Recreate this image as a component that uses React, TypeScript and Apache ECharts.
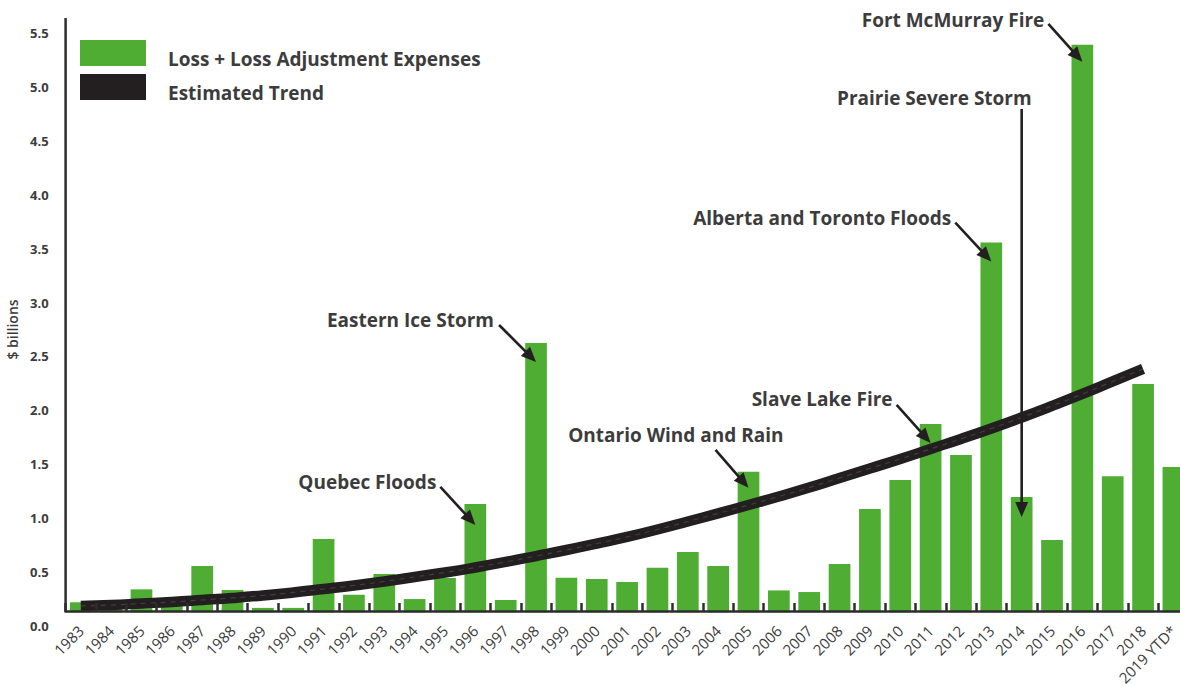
import React, { useEffect, useRef } from "react";
import * as echarts from "echarts";

const years = [
  "1983", "1984", "1985", "1986", "1987", "1988", "1989", "1990", "1991", "1992",
  "1993", "1994", "1995", "1996", "1997", "1998", "1999", "2000", "2001", "2002",
  "2003", "2004", "2005", "2006", "2007", "2008", "2009", "2010", "2011", "2012",
  "2013", "2014", "2015", "2016", "2017", "2018", "2019 YTD*",
];

const losses = [
  0.22, 0.17, 0.34, 0.19, 0.557, 0.334, 0.168, 0.168, 0.807, 0.29,
  0.482, 0.25, 0.445, 1.132, 0.24, 2.625, 0.448, 0.436, 0.408, 0.541,
  0.686, 0.557, 1.43, 0.33, 0.315, 0.575, 1.085, 1.354, 1.874, 1.586,
  3.556, 1.197, 0.798, 5.39, 1.39, 2.245, 1.475,
];

const trend = [
  0.186, 0.195, 0.209, 0.223, 0.241, 0.26, 0.283, 0.311, 0.343, 0.376,
  0.413, 0.455, 0.496, 0.543, 0.594, 0.649, 0.705, 0.765, 0.826, 0.895,
  0.969, 1.044, 1.122, 1.201, 1.284, 1.373, 1.461, 1.549, 1.642, 1.735,
  1.832, 1.934, 2.041, 2.152, 2.268, 2.384, null,
];

const eventLabels = [
  "Quebec Floods",
  "Eastern Ice Storm",
  "Ontario Wind and Rain",
  "Slave Lake Fire",
  "Alberta and Toronto Floods",
  "Prairie Severe Storm",
  "Fort McMurray Fire",
];
const eventYears = ["1996", "1998", "2005", "2011", "2013", "2014", "2016"];

// pixel layout of the annotation callouts (relative to the arrow tip)
const eventLayout = [
  { tipDy: 21, arrow: [-35, -38], text: [-39, -43] },
  { tipDy: 19, arrow: [-37, -37], text: [-42, -42] },
  { tipDy: 16, arrow: [-33, -38], text: [35, -52.5] },
  { tipDy: 19, arrow: [-34, -38], text: [-38, -44] },
  { tipDy: 19, arrow: [-36, -39], text: [-40, -44] },
  { tipDy: 20, arrow: [0, -408], text: [10, -419] },
  { tipDy: 17, arrow: [-34, -38], text: [-38, -42] },
];

const GREEN = "#4ead32";
const DARK = "#231f20";
const AXIS = "#2d2d2d";
const TEXT = "#3c3c3c";
const FONT = "'Open Sans', 'Noto Sans', sans-serif";

export default function App() {
  const ref = useRef<HTMLDivElement>(null);

  useEffect(() => {
    if (!ref.current) return;
    const chart = echarts.init(ref.current, undefined, { renderer: "svg" });
    chart.setOption({
      animation: false,
      backgroundColor: "#ffffff",
      textStyle: { fontFamily: FONT },
      grid: {
        left: 65.6,
        top: 33,
        width: 1123,
        height: 593,
        containLabel: false,
        outerBoundsMode: "none",
      },
      legend: {
        left: 80,
        top: 40,
        orient: "vertical",
        padding: 0,
        itemWidth: 66,
        itemHeight: 26,
        itemGap: 6,
        selectedMode: false,
        data: [
          { name: "Loss + Loss Adjustment Expenses", icon: "rect" },
          { name: "Estimated Trend", icon: "rect" },
        ],
        formatter: "{t|{name}}",
        textStyle: {
          fontFamily: FONT,
          fontSize: 19,
          fontWeight: "bold",
          color: TEXT,
          rich: {
            t: {
              fontFamily: FONT,
              fontSize: 19,
              fontWeight: "bold",
              color: TEXT,
              lineHeight: 30,
              verticalAlign: "bottom",
              padding: [0, 0, 0, 17],
            },
          },
        },
      },
      xAxis: {
        type: "category",
        data: years,
        boundaryGap: true,
        offset: -15,
        z: 10,
        axisLine: { show: true, onZero: false, lineStyle: { color: AXIS, width: 2.5 } },
        axisTick: {
          show: true,
          inside: true,
          length: 8,
          interval: 0,
          lineStyle: { color: AXIS, width: 2.5 },
        },
        axisLabel: {
          interval: 0,
          rotate: 45,
          margin: 17,
          fontSize: 15,
          fontWeight: 500,
          color: TEXT,
          fontFamily: FONT,
        },
        splitLine: { show: false },
      },
      yAxis: {
        type: "value",
        min: 0,
        max: 5.5,
        interval: 0.5,
        name: "$ billions",
        nameLocation: "middle",
        nameGap: 45,
        nameTextStyle: { fontSize: 14, fontWeight: 600, color: TEXT, fontFamily: FONT },
        axisLine: { show: false },
        axisTick: { show: false },
        splitLine: { show: false },
        axisLabel: {
          margin: 17,
          fontSize: 13,
          fontWeight: "bold",
          color: TEXT,
          fontFamily: FONT,
          formatter: (v: number) => v.toFixed(1),
        },
      },
      series: [
        {
          name: "Loss + Loss Adjustment Expenses",
          type: "bar",
          data: losses,
          barCategoryGap: "28.5%",
          color: GREEN,
          itemStyle: { color: GREEN },
          z: 2,
        },
        {
          name: "Estimated Trend",
          type: "line",
          data: trend,
          smooth: true,
          symbol: "none",
          color: DARK,
          itemStyle: { color: DARK },
          lineStyle: { color: DARK, width: 10.5, cap: "butt" },
          z: 3,
        },
        {
          name: "trend-highlight",
          type: "line",
          data: trend,
          smooth: true,
          symbol: "none",
          silent: true,
          lineStyle: { color: "rgba(255,255,255,0.14)", width: 1.2, type: [5, 5] },
          z: 4,
        },
      ],
    });

    const elements: any[] = [];
    // vertical axis line
    elements.push({
      type: "line",
      z: 20,
      silent: true,
      shape: { x1: 65.6, y1: 18, x2: 65.6, y2: 612.2 },
      style: { stroke: AXIS, lineWidth: 2.5 },
    });
    // blank strip below the horizontal axis line
    elements.push({
      type: "rect",
      z: 5,
      silent: true,
      shape: { x: 67, y: 612.2, width: 1113, height: 14.6 },
      style: { fill: "#ffffff" },
    });

    eventLabels.forEach((label, i) => {
      const idx = years.indexOf(eventYears[i]);
      const top = chart.convertToPixel({ seriesIndex: 0 }, [idx, losses[idx]]) as number[];
      const lay = eventLayout[i];
      const tx = top[0];
      const ty = top[1] + lay.tipDy;
      const sx = tx + lay.arrow[0];
      const sy = ty + lay.arrow[1];
      const dx = tx - sx;
      const dy = ty - sy;
      const len = Math.sqrt(dx * dx + dy * dy);
      const ux = dx / len;
      const uy = dy / len;
      const nx = -uy;
      const ny = ux;
      const L = 15;
      const W = 6.5;
      const bx = tx - ux * L;
      const by = ty - uy * L;
      elements.push({
        type: "line",
        z: 30,
        silent: true,
        shape: { x1: sx, y1: sy, x2: tx - ux * L * 0.6, y2: ty - uy * L * 0.6 },
        style: { stroke: DARK, lineWidth: 2.6 },
      });
      elements.push({
        type: "polygon",
        z: 30,
        silent: true,
        shape: {
          points: [
            [tx, ty],
            [bx + nx * W, by + ny * W],
            [bx - nx * W, by - ny * W],
          ],
        },
        style: { fill: DARK },
      });
      elements.push({
        type: "text",
        z: 30,
        silent: true,
        style: {
          text: label,
          x: tx + lay.text[0],
          y: ty + lay.text[1],
          fill: TEXT,
          fontSize: 19,
          fontWeight: "bold",
          fontFamily: FONT,
          textAlign: "right",
          textVerticalAlign: "middle",
          align: "right",
          verticalAlign: "middle",
        },
      });
    });

    chart.setOption({ graphic: { elements } });

    return () => {
      chart.dispose();
    };
  }, []);

  return (
    <div
      ref={ref}
      style={{ position: "fixed", left: 0, top: 0, width: 1180, height: 686, background: "#fff" }}
    />
  );
}
